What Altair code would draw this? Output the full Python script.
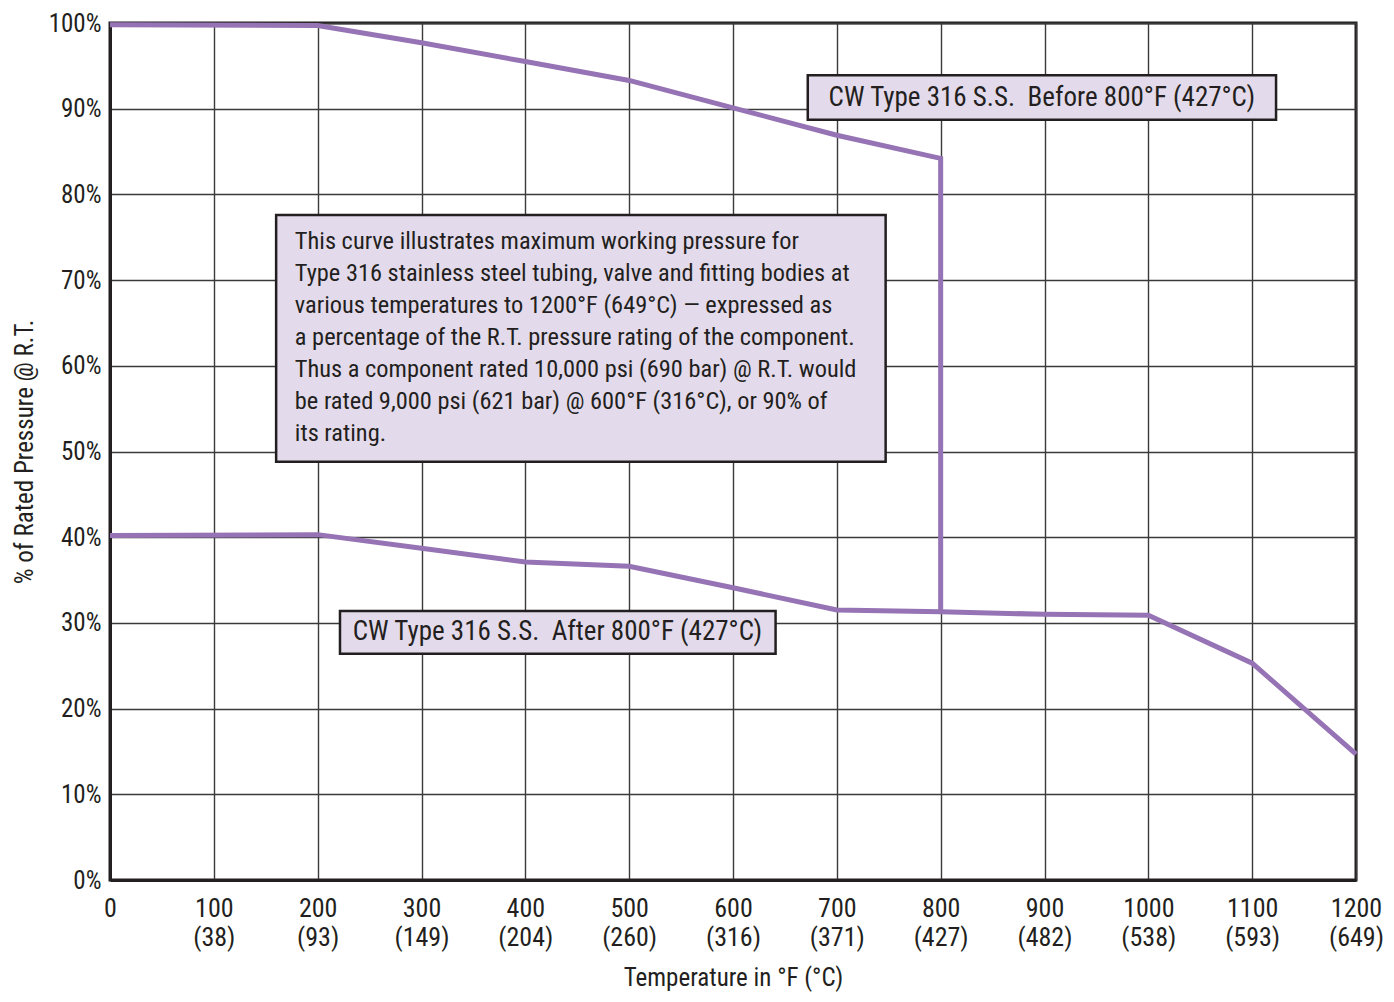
import altair as alt
import pandas as pd

# ---- data ----
temps_f = [0, 100, 200, 300, 400, 500, 600, 700, 800, 900, 1000, 1100, 1200]
temps_c = ["", "(38)", "(93)", "(149)", "(204)", "(260)", "(316)", "(371)", "(427)",
           "(482)", "(538)", "(593)", "(649)"]
pct_ticks = [0, 10, 20, 30, 40, 50, 60, 70, 80, 90, 100]

before_x = [0, 200, 300, 400, 500, 600, 700, 800]
before_y = [99.8, 99.7, 97.7, 95.5, 93.3, 90.1, 86.9, 84.2]

after_x = [0, 200, 300, 400, 500, 600, 700, 800, 900, 1000, 1100, 1200]
after_y = [40.2, 40.3, 38.7, 37.1, 36.6, 34.1, 31.5, 31.3, 31.0, 30.9, 25.3, 14.7]

label_before = "CW Type 316 S.S.\u00a0 Before 800°F (427°C)"
label_after = "CW Type 316 S.S.\u00a0 After 800°F (427°C)"
note_lines = [
    "This curve illustrates maximum working pressure for",
    "Type 316 stainless steel tubing, valve and fitting bodies at",
    "various temperatures to 1200°F (649°C) — expressed as",
    "a percentage of the R.T. pressure rating of the component.",
    "Thus a component rated 10,000 psi (690 bar) @ R.T. would",
    "be rated 9,000 psi (621 bar) @ 600°F (316°C), or 90% of",
    "its rating.",
]

# ---- styling / layout ----
FONT = "Liberation Sans Narrow, Roboto Condensed, Roboto, sans-serif"
INK = "#231F20"
PURPLE = "#9673B4"
BOXFILL = "#E3DBEB"
W, H = 1246, 857

# the vertical drop at 800°F belongs to the drawn curve
curve_rows = []
for i, (x, y) in enumerate(zip(before_x, before_y)):
    curve_rows.append({"series": "before", "order": i, "temp": x, "pct": y})
curve_rows.append({"series": "before", "order": len(before_x), "temp": 800,
                   "pct": after_y[after_x.index(800)]})
for i, (x, y) in enumerate(zip(after_x, after_y)):
    curve_rows.append({"series": "after", "order": i, "temp": x, "pct": y})
curves = pd.DataFrame(curve_rows)

# annotation boxes (layout positions in data units)
boxes = pd.DataFrame([
    {"x": 160, "x2": 747, "y": 77.6, "y2": 48.8},
    {"x": 672, "x2": 1123, "y": 93.9, "y2": 88.7},
    {"x": 221.5, "x2": 641, "y": 31.4, "y2": 26.4},
])
labels = pd.DataFrame([
    {"x": 897.5, "y": 91.3, "text": label_before},
    {"x": 431, "y": 28.9, "text": label_after},
])
note = pd.DataFrame([{"x": 178, "y": 74.5, "text": "\n".join(note_lines)}])

cmap = "{" + ",".join(f"'{f}':'{c}'" for f, c in zip(temps_f, temps_c)) + "}"

xscale = alt.Scale(domain=[0, 1200], nice=False, zero=False)
yscale = alt.Scale(domain=[0, 100], nice=False)

xaxis = alt.Axis(
    values=temps_f, title="Temperature in °F (°C)", grid=True,
    labelExpr=f"[format(datum.value, 'd'), {cmap}['' + datum.value]]",
    labelFontSize=26, labelLineHeight=29, labelPadding=15, labelBaseline="top",
    labelColor=INK, labelFont=FONT, labelFlush=False,
    tickSize=0, domainColor=INK, domainWidth=3,
    gridColor="#3a3a3a", gridWidth=1.4, gridOpacity=1,
    titleFont=FONT, titleFontSize=25, titleFontWeight="normal", titleColor=INK,
    titlePadding=15,
)
yaxis = alt.Axis(
    values=pct_ticks, title="% of Rated Pressure @ R.T.", grid=True,
    labelExpr="datum.value + '%'",
    labelFontSize=25, labelPadding=9, labelColor=INK, labelFont=FONT,
    tickSize=0, domainColor=INK, domainWidth=3,
    gridColor="#3a3a3a", gridWidth=1.4, gridOpacity=1,
    titleFont=FONT, titleFontSize=25, titleFontWeight="normal", titleColor=INK,
    titlePadding=11,
)

base_axes = alt.Chart(curves).mark_line(opacity=0).encode(
    x=alt.X("temp:Q", scale=xscale, axis=xaxis),
    y=alt.Y("pct:Q", scale=yscale, axis=yaxis),
    detail="series:N",
)

rects = alt.Chart(boxes).mark_rect(fill=BOXFILL, stroke=INK, strokeWidth=2.5).encode(
    x=alt.X("x:Q", scale=xscale), x2="x2:Q",
    y=alt.Y("y:Q", scale=yscale), y2="y2:Q",
)

label_text = alt.Chart(labels).mark_text(
    font=FONT, fontSize=27, color=INK, align="center", baseline="middle"
).encode(x=alt.X("x:Q", scale=xscale), y=alt.Y("y:Q", scale=yscale), text="text:N")

note_text = alt.Chart(note).mark_text(
    font=FONT, fontSize=24.4, color=INK, align="left", baseline="middle",
    lineBreak="\n", lineHeight=32,
).encode(x=alt.X("x:Q", scale=xscale), y=alt.Y("y:Q", scale=yscale), text="text:N")

lines = alt.Chart(curves).mark_line(color=PURPLE, strokeWidth=5, strokeJoin="miter").encode(
    x=alt.X("temp:Q", scale=xscale),
    y=alt.Y("pct:Q", scale=yscale),
    detail="series:N",
    order="order:Q",
)

chart = alt.layer(base_axes, rects, note_text, label_text, lines).properties(
    width=W, height=H,
    autosize=alt.AutoSizeParams(type="none"),
    padding={"left": 102, "top": 15, "right": 30, "bottom": 116},
    background="white",
).configure_view(stroke=INK, strokeWidth=3)

chart.save("out.html", embed_options={"renderer": "svg", "actions": False})
